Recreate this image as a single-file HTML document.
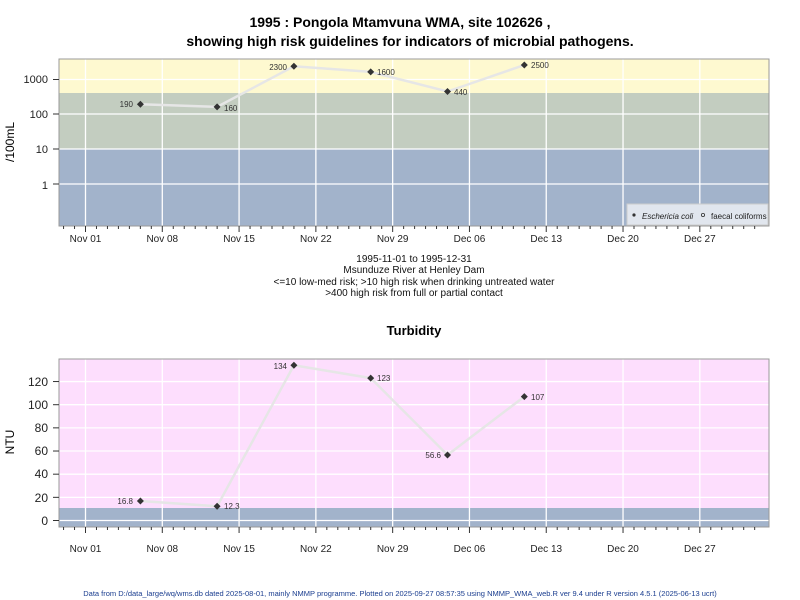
<!DOCTYPE html>
<html><head><meta charset="utf-8"><style>
html,body{margin:0;padding:0;background:#fff;width:800px;height:600px;overflow:hidden}
svg{display:block;font-family:"Liberation Sans",Arial,sans-serif}
</style></head><body>
<svg id="s" width="800" height="600" viewBox="0 0 800 600" xmlns="http://www.w3.org/2000/svg">
<text x="400" y="27" text-anchor="middle" font-size="14" font-weight="bold">1995 : Pongola Mtamvuna WMA, site 102626 ,</text>
<text x="410" y="46" text-anchor="middle" font-size="14" font-weight="bold">showing high risk guidelines for indicators of microbial pathogens.</text>
<rect x="59" y="59" width="710" height="34" fill="#fef9d0"/>
<rect x="59" y="93" width="710" height="56" fill="#c3cdc0"/>
<rect x="59" y="149" width="710" height="77" fill="#a2b3cb"/>
<rect x="59" y="359" width="710" height="149" fill="#fddefd"/>
<rect x="59" y="508" width="710" height="19" fill="#a2b3cb"/>
<g id="grid" stroke="#fff" stroke-width="1.3"></g>
<polyline points="140.4,104.2 217.1,106.9 293.9,66.3 370.7,71.9 447.5,91.5 524.3,65" fill="none" stroke="#e6e6e6" stroke-width="2.5"/>
<polyline points="140.4,501 217.1,506.3 293.9,365.3 370.7,378.1 447.5,455 524.3,396.6" fill="none" stroke="#e6e6e6" stroke-width="2.5"/>
<g id="pts" fill="#333"></g>
<g font-size="8" fill="#333">
<text x="133" y="107" text-anchor="end">190</text><text x="224" y="111">160</text>
<text x="287" y="70" text-anchor="end">2300</text><text x="377" y="75">1600</text>
<text x="454" y="95">440</text><text x="531" y="68">2500</text>
<text x="133" y="504" text-anchor="end">16.8</text><text x="224" y="509">12.3</text>
<text x="287" y="369" text-anchor="end">134</text><text x="377" y="381">123</text>
<text x="441" y="458" text-anchor="end">56.6</text><text x="531" y="400">107</text>
</g>
<rect x="59" y="59" width="710" height="167" fill="none" stroke="#999"/>
<rect x="59" y="359" width="710" height="168" fill="none" stroke="#999"/>
<g id="ticks" stroke="#333"></g>
<g font-size="11" text-anchor="end" fill="#222">
<text x="48" y="83">1000</text><text x="48" y="118">100</text><text x="48" y="153">10</text><text x="48" y="189">1</text>
</g>
<g font-size="12" text-anchor="end" fill="#222">
<text x="48" y="386">120</text><text x="48" y="409">100</text><text x="48" y="432">80</text><text x="48" y="455">60</text><text x="48" y="478">40</text><text x="48" y="502">20</text><text x="48" y="525">0</text>
</g>
<text transform="translate(14,142) rotate(-90)" text-anchor="middle" font-size="12">/100mL</text>
<text transform="translate(14,442) rotate(-90)" text-anchor="middle" font-size="12">NTU</text>
<g id="xl" font-size="10" text-anchor="middle" fill="#222"></g>
<rect x="627" y="204" width="141" height="21" fill="#e1e6ee" stroke="#ccc"/>
<circle cx="634" cy="215" r="1.6" fill="#333"/>
<text x="642" y="219" font-size="8" font-style="italic" fill="#222">Eschericia coli</text>
<circle cx="703" cy="215" r="1.6" fill="none" stroke="#333" stroke-width="0.8"/>
<text x="711" y="219" font-size="8" fill="#222">faecal coliforms</text>
<g font-size="10" text-anchor="middle" fill="#111">
<text x="414" y="262">1995-11-01 to 1995-12-31</text>
<text x="414" y="273">Msunduze River at Henley Dam</text>
<text x="414" y="285">&lt;=10 low-med risk; &gt;10 high risk when drinking untreated water</text>
<text x="414" y="296">&gt;400 high risk from full or partial contact</text>
</g>
<text x="414" y="335" text-anchor="middle" font-size="13" font-weight="bold">Turbidity</text>
<text x="400" y="596" text-anchor="middle" font-size="7.5" fill="#1a3d8f">Data from D:/data_large/wq/wms.db dated 2025-08-01, mainly NMMP programme. Plotted on 2025-09-27 08:57:35 using NMMP_WMA_web.R ver 9.4 under R version 4.5.1 (2025-06-13 ucrt)</text>
</svg>
<script>
const NS="http://www.w3.org/2000/svg";
function el(p,t,a,txt){const e=document.createElementNS(NS,t);for(const k in a)e.setAttribute(k,a[k]);if(txt)e.textContent=txt;document.getElementById(p).appendChild(e);}
const X=d=>85.5+d*10.97;
const labs=["Nov 01","Nov 08","Nov 15","Nov 22","Nov 29","Dec 06","Dec 13","Dec 20","Dec 27"];
labs.forEach((l,i)=>{const x=X(i*7);
 el("grid","line",{x1:x,x2:x,y1:59,y2:226});el("grid","line",{x1:x,x2:x,y1:359,y2:527});
 el("ticks","line",{x1:x,x2:x,y1:226,y2:232});el("ticks","line",{x1:x,x2:x,y1:527,y2:533});
 el("xl","text",{x:x,y:242},l);el("xl","text",{x:x,y:552},l);});
for(let d=-2;d<62;d++){if(d%7==0)continue;const x=X(d);if(x<60||x>768)continue;
 el("ticks","line",{x1:x,x2:x,y1:226,y2:229});el("ticks","line",{x1:x,x2:x,y1:527,y2:530});}
[79.5,114,149,184].forEach(y=>{el("grid","line",{x1:59,x2:769,y1:y,y2:y});el("ticks","line",{x1:53,x2:59,y1:y,y2:y});});
for(let v=0;v<=120;v+=20){const y=520.5-v*1.158;el("grid","line",{x1:59,x2:769,y1:y,y2:y});el("ticks","line",{x1:53,x2:59,y1:y,y2:y});}
[[140.4,104.2],[217.1,106.9],[293.9,66.3],[370.7,71.9],[447.5,91.5],[524.3,65],[140.4,501],[217.1,506.3],[293.9,365.3],[370.7,378.1],[447.5,455],[524.3,396.6]].forEach(p=>{
 el("pts","path",{d:`M${p[0]},${p[1]-3.5}L${p[0]+3.5},${p[1]}L${p[0]},${p[1]+3.5}L${p[0]-3.5},${p[1]}Z`});});
</script>
</body></html>
